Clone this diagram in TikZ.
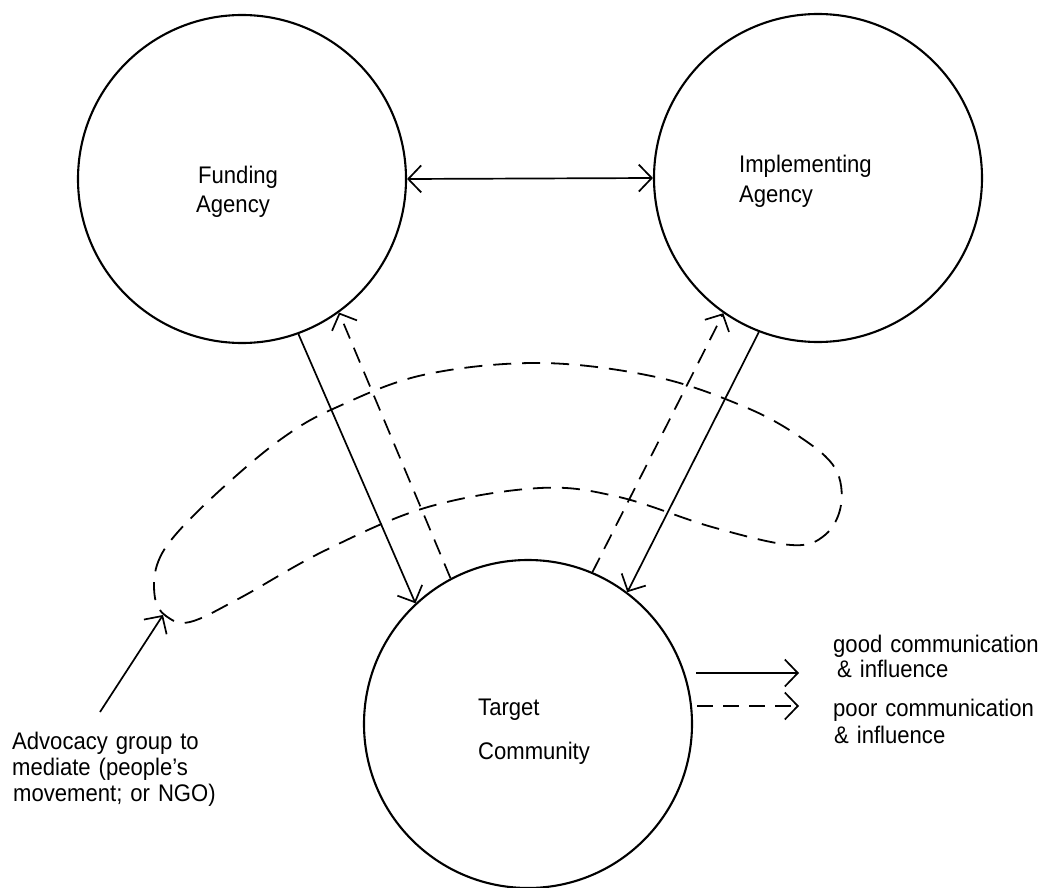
\documentclass[tikz,border=0pt]{standalone}
\usepackage{fontspec}
\setmainfont{Liberation Sans}[FakeStretch=0.92]
\usetikzlibrary{arrows.meta}
\newcommand\labelfont{\fontsize{24}{28}\selectfont\spaceskip=8pt plus 2pt minus 1pt\relax}

\begin{document}
\begin{tikzpicture}[x=1pt, y=-1pt,
  agency/.style={circle, draw, line width=2.1pt, minimum size=328pt, inner sep=0pt},
  lbl/.style={font=\labelfont, inner sep=0pt, anchor=base west},
  barb/.style={-{Straight Barb[length=13pt, width=27pt, line width=1.7pt]}},
  strong/.style={line width=1.7pt, barb},
  weak/.style={line width=1.7pt, barb, dash pattern=on 16pt off 10pt},
  loopline/.style={line width=1.8pt, dash pattern=on 18pt off 11pt}]

  \useasboundingbox (0,0) rectangle (1050,888);

  % the three parties
  \node[agency] (fund) at (242,179) {};
  \node[agency] (impl) at (818,178) {};
  \node[agency] (targ) at (528,724) {};

  % labels inside the circles
  \node[lbl] (f1) at (198,183) {Funding};
  \node[lbl] (f2) at (196,212) {Agency};
  \node[lbl] (i1) at (739,173) {Implementing};
  \node[lbl] (i2) at (739,202) {Agency};
  \node[lbl] (t1) at (478,715) {Target};
  \node[lbl] (t2) at (478,759) {Community};

  % links between the parties
  \draw[line width=1.7pt, {Straight Barb[length=13pt, width=27pt, line width=1.7pt]}-{Straight Barb[length=13pt, width=27pt, line width=1.7pt]}]
    (fund.east) -- (impl.west);
  \draw[strong] (fund.-70) -- (targ.133);
  \draw[weak] (targ.118.6) -- (fund.-54.7);
  \draw[weak] (targ.67.2) -- (impl.-125.3);
  \draw[strong] (impl.-111.6) -- (targ.53.3);

  % the mediating advocacy group
  \draw[loopline] plot[smooth cycle, tension=0.6] coordinates {
    (155,598) (157,565) (177,533) (228,483) (284,437) (335,408) (423,375)
    (540,363) (656,377) (745,407) (800,437) (835,468) (841,505) (825,535)
    (791,545) (712,527) (619,497) (540,488) (428,507) (326,550) (240,598)
    (190,622) (166,616)};

  \coordinate (advtail) at (100,712);
  \coordinate (advtip) at (163,615);
  \draw[strong] (advtail) -- (advtip);
  \node[lbl] (a1) at (12,749) {Advocacy group to};
  \node[lbl] (a2) at (12,775) {mediate (people’s};
  \node[lbl] (a3) at (13,801) {movement; or NGO)};

  % key
  \coordinate (gs) at (696,673);
  \coordinate (ge) at (799,673);
  \coordinate (ps) at (697,706);
  \coordinate (pe) at (799,706);
  \draw[strong] (gs) -- (ge);
  \draw[weak] (ps) -- (pe);
  \node[lbl] (k1) at (833,652) {good communication};
  \node[lbl] (k2) at (837,677) {\& influence};
  \node[lbl] (k3) at (833,716) {poor communication};
  \node[lbl] (k4) at (834,743) {\& influence};
\end{tikzpicture}
\end{document}
